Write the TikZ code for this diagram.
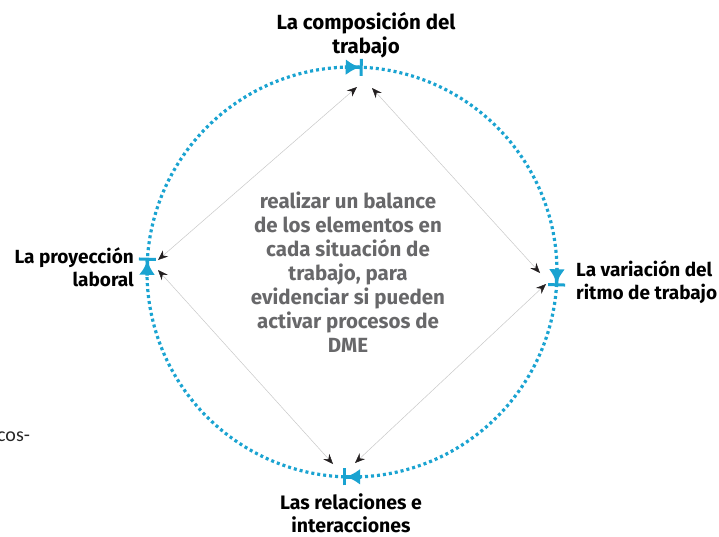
\documentclass[tikz,border=0pt]{standalone}
\usepackage{fontspec}
\setmainfont{Fira Sans}
\newfontfamily\cosfont{Carlito}
\usetikzlibrary{arrows.meta}
\definecolor{cyanline}{HTML}{1AA3D1}
\definecolor{centergrey}{HTML}{68686A}
\definecolor{linkgrey}{HTML}{C8C8C8}
\definecolor{tipblack}{HTML}{231F20}
\begin{document}
\begin{tikzpicture}[x=1pt,y=-1pt,
  ring/.style={draw=cyanline, line width=3.2pt, dash pattern=on 3pt off 3pt},
  marker/.style={draw=cyanline, fill=cyanline, line width=3.5pt,
    -{Latex[length=14pt,width=16pt,sep=0pt]Bar[width=17pt,line width=3pt]}},
  link/.style={draw=linkgrey, line width=0.5pt,
    {Stealth[length=10pt,width=8pt,color=tipblack]}-{Stealth[length=10pt,width=8pt,color=tipblack]}},
  lab/.style={font=\bfseries\fontsize{19}{23.5}\selectfont, text=black, inner sep=0pt},
  bigl/.style={font=\bfseries\fontsize{20.5}{23.5}\selectfont, text=black, inner sep=0pt},
  midl/.style={font=\bfseries\fontsize{19.5}{23.5}\selectfont, text=black, inner sep=0pt},
  mid/.style={font=\bfseries\fontsize{20.5}{24}\selectfont, text=centergrey, align=center, inner sep=0pt}]
  \useasboundingbox (0,0) rectangle (719,536);
  \coordinate (c) at (352,272);
  \draw[ring] (c) circle[radius=205];
  % markers on the ring (screen angles, clockwise)
  \path (c) ++(-87:205) coordinate (mT) (c) ++(-92:205) coordinate (mTb);
  \path (c) ++(4:205) coordinate (mR) (c) ++(-1:205) coordinate (mRb);
  \path (c) ++(92.5:205) coordinate (mB) (c) ++(87.5:205) coordinate (mBb);
  \path (c) ++(184:205) coordinate (mL) (c) ++(179:205) coordinate (mLb);
  \draw[marker] (mTb) -- (mT);
  \draw[marker] (mRb) -- (mR);
  \draw[marker] (mBb) -- (mB);
  \draw[marker] (mLb) -- (mL);
  % link ends
  \coordinate (t1) at (357,87);
  \coordinate (t2) at (372,88);
  \coordinate (r1) at (540,273);
  \coordinate (r2) at (546,284);
  \coordinate (b1) at (355,463);
  \coordinate (b2) at (333,464);
  \coordinate (l1) at (158,260);
  \coordinate (l2) at (158,270);
  \draw[link] (t1) -- (l1);
  \draw[link] (t2) -- (r1);
  \draw[link] (r2) -- (b1);
  \draw[link] (b2) -- (l2);
  % labels
  \node[bigl, align=center] (top) at (366,35) {La composición del\\trabajo};
  \node[lab, align=left, anchor=west] (right) at (576,282) {La variación del\\ritmo de trabajo};
  \node[lab, align=right, anchor=east] (left) at (134,267) {La proyección\\laboral};
  \node[midl, align=center] (bottom) at (351,513) {Las relaciones e\\interacciones};
  \node[mid] (center) at (348,272) {realizar un balance\\de los elementos en\\cada situación de\\trabajo, para\\evidenciar si pueden\\activar procesos de\\DME};
  \node[font=\cosfont\fontsize{20}{22}\selectfont, text=black!85, anchor=west, inner sep=0pt] (cos) at (-3,437) {cos-};
\end{tikzpicture}
\end{document}
